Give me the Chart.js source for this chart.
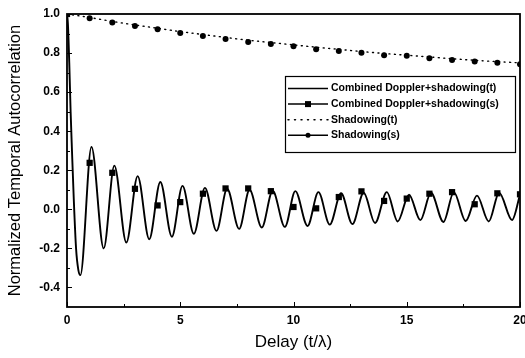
<!DOCTYPE html>
<html><head><meta charset="utf-8">
<script src="https://cdn.jsdelivr.net/npm/chart.js@4/dist/chart.umd.min.js"></script>
<style>html,body{margin:0;padding:0;background:#fff}#wrap{width:525px;height:358px;position:relative}</style>
</head><body><div id="wrap"><canvas id="c"></canvas></div>
<script>
// ---- data ----
const combinedTDelay = [0,0.04,0.1,0.16,0.22,0.3,0.4,0.5,0.59,
  1.08,1.62,2.09,2.62,3.12,3.63,4.12,4.63,5.1,5.6,6.09,6.6,7.07,7.6,8.06,8.6,9.08,9.62,
  10.08,10.62,11.1,11.6,12.1,12.6,13.1,13.6,14.12,14.6,15.1,15.6,16.07,16.62,17.08,17.6,
  18.1,18.62,19.08,19.65,20];
const combinedTValue = [1.0,0.95,0.75,0.5,0.3,0.05,-0.2,-0.31,-0.337,
  0.32,-0.2,0.224,-0.17,0.17,-0.153,0.14,-0.14,0.12,-0.125,0.11,-0.11,0.105,-0.1,0.1,-0.093,0.095,-0.09,
  0.093,-0.085,0.088,-0.078,0.082,-0.075,0.085,-0.07,0.088,-0.062,0.075,-0.055,0.085,-0.065,0.088,-0.06,
  0.07,-0.062,0.085,-0.055,0.075];
const sampleDelay = [0,1,2,3,4,5,6,7,8,9,10,11,12,13,14,15,16,17,18,19,20];
const combinedSValue = [1.0,0.238,0.187,0.105,0.02,0.037,0.08,0.107,0.107,0.093,0.012,0.005,0.063,0.092,0.043,0.055,0.08,0.088,0.026,0.082,0.077];
const shadowingSValue = [1.0,0.978,0.956,0.939,0.922,0.903,0.888,0.872,0.857,0.847,0.835,0.82,0.811,0.801,0.789,0.786,0.774,0.765,0.757,0.75,0.743];
const shadowingTValue = [1.0,0.982,0.962,0.944,0.927,0.91,0.895,0.88,0.866,0.854,0.842,0.83,0.819,0.808,0.798,0.789,0.78,0.771,0.763,0.756,0.75];
const seriesNames = ['Combined Doppler+shadowing(t)','Combined Doppler+shadowing(s)','Shadowing(t)','Shadowing(s)'];
const xTickValues = [0,5,10,15,20];
const yTickValues = [-0.4,-0.2,0.0,0.2,0.4,0.6,0.8,1.0];
const xMinorTicks = [2.5,7.5,12.5,17.5];
const yMinorTicks = [-0.3,-0.1,0.1,0.3,0.5,0.7,0.9];

const pts = (xs, ys) => xs.map((x, i) => ({x, y: ys[i]}));
const FONT = "'Liberation Sans', Arial, sans-serif";
Chart.defaults.color = '#000';
Chart.defaults.font.family = FONT;

const framePlugin = {
  id: 'frame',
  afterDraw(chart) {
    const {ctx, chartArea: a, scales: {x, y}} = chart;
    ctx.save();
    ctx.strokeStyle = '#000';
    ctx.lineWidth = 1.8;
    ctx.strokeRect(a.left, a.top, a.right - a.left, a.bottom - a.top);
    ctx.lineWidth = 1;
    ctx.beginPath();
    yTickValues.forEach(v => { const p = Math.round(y.getPixelForValue(v)) + 0.5; ctx.moveTo(a.left, p); ctx.lineTo(a.left + 5, p); });
    yMinorTicks.forEach(v => { const p = Math.round(y.getPixelForValue(v)) + 0.5; ctx.moveTo(a.left, p); ctx.lineTo(a.left + 3, p); });
    xTickValues.forEach(v => { const p = Math.round(x.getPixelForValue(v)) + 0.5; ctx.moveTo(p, a.bottom); ctx.lineTo(p, a.bottom - 5); });
    xMinorTicks.forEach(v => { const p = Math.round(x.getPixelForValue(v)) + 0.5; ctx.moveTo(p, a.bottom); ctx.lineTo(p, a.bottom - 3); });
    ctx.stroke();

    // legend box inside plot area
    const bx = a.right - 235, by = a.top + 62, bw = 230, bh = 76;
    ctx.fillStyle = '#fff';
    ctx.fillRect(bx, by, bw, bh);
    ctx.lineWidth = 1.2;
    ctx.strokeRect(bx + 0.5, by + 0.5, bw, bh);
    ctx.font = 'bold 10.5px ' + FONT;
    ctx.textBaseline = 'middle';
    ctx.textAlign = 'left';
    chart.data.datasets.forEach((ds, i) => {
      const ly = by + 12.5 + i * 15.6;
      const x0 = bx + 3, x1 = bx + 43;
      ctx.save();
      ctx.strokeStyle = '#000';
      ctx.lineWidth = 1.5;
      if (ds.legendDash) { ctx.setLineDash(ds.legendDash); ctx.lineCap = 'round'; }
      ctx.beginPath(); ctx.moveTo(x0, ly); ctx.lineTo(x1, ly); ctx.stroke();
      ctx.restore();
      const cx = (x0 + x1) / 2;
      ctx.fillStyle = '#000';
      if (ds.legendMarker === 'rect') ctx.fillRect(cx - 3, ly - 3, 6, 6);
      if (ds.legendMarker === 'circle') { ctx.beginPath(); ctx.arc(cx, ly, 2.5, 0, Math.PI * 2); ctx.fill(); }
      ctx.fillText(ds.label, x1 + 3, ly);
    });
    ctx.restore();
  }
};

new Chart(document.getElementById('c'), {
  type: 'line',
  data: {
    datasets: [
      { label: seriesNames[0], data: pts(combinedTDelay, combinedTValue), borderColor: '#000', borderWidth: 1.9,
        pointRadius: 0, cubicInterpolationMode: 'monotone', fill: false, order: 1 },
      { label: seriesNames[1], data: pts(sampleDelay, combinedSValue), showLine: false, pointStyle: 'rect',
        pointRadius: 4.4, backgroundColor: '#000', borderColor: '#000', borderWidth: 0, legendMarker: 'rect', order: 0 },
      { label: seriesNames[2], data: pts(sampleDelay, shadowingTValue), borderColor: '#000', borderWidth: 1.4,
        borderDash: [1, 4.5], borderCapStyle: 'round', pointRadius: 0, cubicInterpolationMode: 'monotone', fill: false,
        legendDash: [1, 5.5], order: 2 },
      { label: seriesNames[3], data: pts(sampleDelay, shadowingSValue), showLine: false, pointStyle: 'circle',
        pointRadius: 3, backgroundColor: '#000', borderColor: '#000', borderWidth: 0, legendMarker: 'circle', order: 0 }
    ]
  },
  options: {
    responsive: true, maintainAspectRatio: false, animation: false, devicePixelRatio: 1,
    layout: { padding: { top: 14, right: 5, left: 0, bottom: 0 } },
    plugins: { legend: { display: false }, tooltip: { enabled: false } },
    scales: {
      x: {
        type: 'linear', min: 0, max: 20,
        afterFit(s) { s.height = 51; s.paddingLeft = 0; s.paddingRight = 0; },
        afterBuildTicks(s) { s.ticks = xTickValues.map(v => ({value: v})); },
        grid: { display: false, drawTicks: false }, border: { display: false },
        ticks: { font: { size: 12, weight: 'bold' }, padding: 6, maxRotation: 0, callback: v => String(v) },
        title: { display: true, text: 'Delay (t/\u03bb)', font: { size: 17 }, padding: { top: 0, bottom: 5 } }
      },
      y: {
        type: 'linear', min: -0.5, max: 1.0,
        afterFit(s) { s.width = 67; s.paddingTop = 0; s.paddingBottom = 0; },
        afterBuildTicks(s) { s.ticks = yTickValues.map(v => ({value: v})); },
        grid: { display: false, drawTicks: false }, border: { display: false },
        ticks: { font: { size: 12, weight: 'bold' }, padding: 7, callback: v => Number(v).toFixed(1) },
        title: { display: true, text: 'Normalized Temporal Autocorrelation', font: { size: 16.5 }, padding: { top: 6, bottom: 0 } }
      }
    }
  },
  plugins: [framePlugin]
});
</script></body></html>
